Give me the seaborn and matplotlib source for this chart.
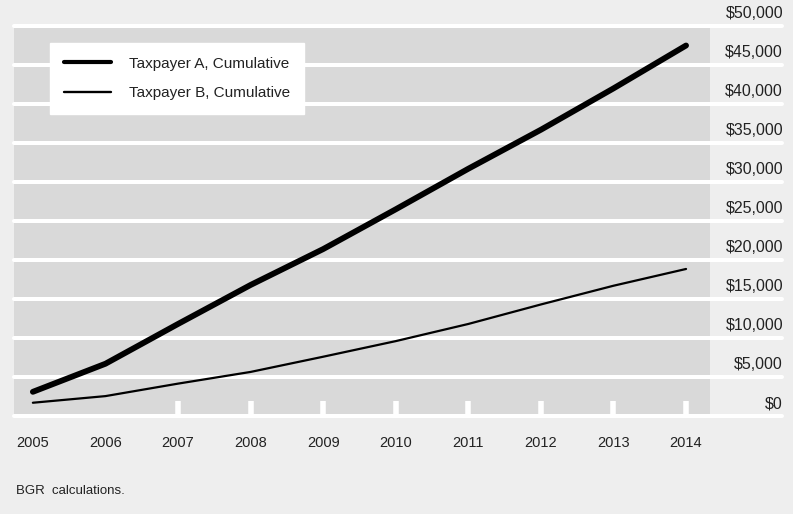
import matplotlib
matplotlib.use("Agg")
from matplotlib import pyplot as plt
from matplotlib.transforms import ScaledTranslation
import seaborn as sns
import pandas as pd

years = [2005, 2006, 2007, 2008, 2009, 2010, 2011, 2012, 2013, 2014]
taxpayer_a = [3100, 6700, 11800, 16800, 21400, 26500, 31700, 36700, 42000, 47500]
taxpayer_b = [1700, 2550, 4150, 5650, 7600, 9600, 11800, 14300, 16700, 18850]
y_ticks = [0, 5000, 10000, 15000, 20000, 25000, 30000, 35000, 40000, 45000, 50000]
y_labels = ["$" + format(v, ",") for v in y_ticks]
source_note = "BGR  calculations."

df = pd.DataFrame({"year": years, "a": taxpayer_a, "b": taxpayer_b})

sns.set_style("white")
plt.rcParams["font.family"] = ["Liberation Sans", "DejaVu Sans"]

fig = plt.figure(figsize=(7.93, 5.14), dpi=100, facecolor="#eeeeee")
ax = fig.add_axes([14 / 793, 98 / 514, 696 / 793, 390 / 514])
ax.set_facecolor("#d9d9d9")

sns.lineplot(data=df, x="year", y="a", ax=ax, color="black", linewidth=4.2,
             label="Taxpayer A, Cumulative", zorder=3)
sns.lineplot(data=df, x="year", y="b", ax=ax, color="black", linewidth=1.6,
             label="Taxpayer B, Cumulative", zorder=3)

ax.set_xlim(2004.74, 2014.33)
ax.set_ylim(0, 50000)
for s in ax.spines.values():
    s.set_visible(False)

# white gridlines running out under the labels
for v in y_ticks:
    ax.axhline(v, xmin=0, xmax=(782 - 14) / 696, color="white", lw=2.9,
               clip_on=False, zorder=1)

ax.yaxis.tick_right()
ax.set_yticks(y_ticks)
ax.set_yticklabels(y_labels, ha="right", fontsize=11.5, color="#222222")
ax.tick_params(axis="y", left=False, right=True, length=0, pad=52.6)
offset = ScaledTranslation(0, 10 / 72, fig.dpi_scale_trans)
for lab in ax.get_yticklabels():
    lab.set_transform(lab.get_transform() + offset)

ax.set_xticks(years)
ax.set_xticklabels([str(y) for y in years], fontsize=10.5, color="#222222")
ax.tick_params(axis="x", bottom=True, direction="in", length=11, width=4,
               color="white", pad=14.5)
for i, t in enumerate(ax.xaxis.get_major_ticks()):
    if i < 2:
        t.tick1line.set_visible(False)
ax.set_xlabel("")
ax.set_ylabel("")

leg = ax.legend(loc="upper left", bbox_to_anchor=((50 - 14) / 696, (416 - 43) / 390),
                borderaxespad=0, frameon=True, fancybox=False, framealpha=1,
                facecolor="white", edgecolor="white", fontsize=11,
                handlelength=3.1, handletextpad=1.2, labelspacing=1.0, borderpad=0.9)
for line, w in zip(leg.get_lines(), [3.0, 1.7]):
    line.set_linewidth(w)
for txt in leg.get_texts():
    txt.set_color("#222222")

fig.text(16 / 793, 1 - 491 / 514, source_note, fontsize=9.5, va="center", color="#222222")

fig.savefig("out.png", dpi=100, facecolor=fig.get_facecolor())
